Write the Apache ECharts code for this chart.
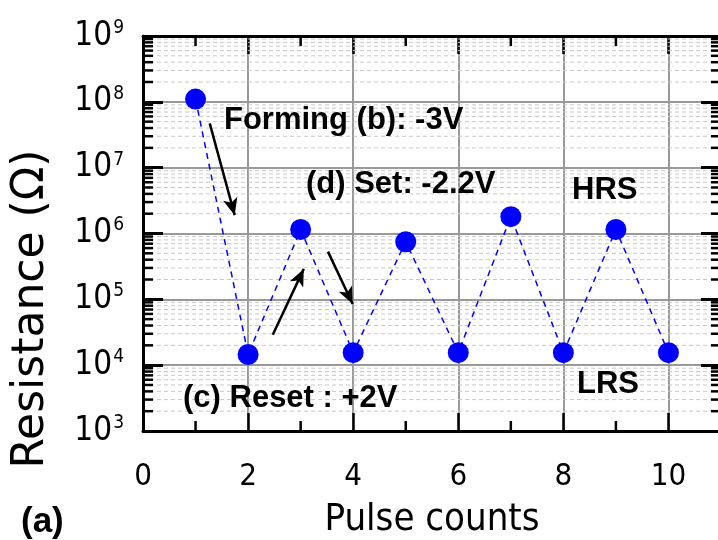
<!DOCTYPE html>
<html>
<head>
<meta charset="utf-8">
<script src="https://cdn.jsdelivr.net/npm/echarts@6/dist/echarts.min.js"></script>
<style>
  html, body { margin: 0; padding: 0; background: #fff; }
  #chart { width: 718px; height: 540px; }
</style>
</head>
<body>
<div id="chart"></div>
<script>
// values
const pulses = [1, 2, 3, 4, 5, 6, 7, 8, 9, 10];
const resistance = [1.1e8, 1.45e4, 1.15e6, 1.55e4, 7.5e5, 1.55e4, 1.8e6, 1.55e4, 1.15e6, 1.55e4];
const xMinorTicks = [1, 3, 5, 7, 9];
const yMinorTicks = [];
for (let d = 3; d < 9; d++) {
  for (let m = 2; m <= 9; m++) yMinorTicks.push(m * Math.pow(10, d));
}
// arrows: [from, to] in data space
const arrows = [
  [[1.27, 4.7e7], [1.745, 1.9e6]],
  [[2.47, 2.9e4], [3.06, 2.9e5]],
  [[3.52, 5.3e5], [3.99, 8.5e4]]
];

const narrow = "'Liberation Sans Narrow', 'DejaVu Sans Condensed', sans-serif";
const bold = "'Liberation Sans', Arial, sans-serif";

const chart = echarts.init(document.getElementById('chart'));

function yMinorItem (params, api) {
  const cs = params.coordSys;
  const y = api.coord([0, api.value(1)])[1];
  return {
    type: 'group',
    children: [
      { type: 'line', shape: { x1: cs.x, y1: y, x2: cs.x + cs.width, y2: y },
        style: { stroke: '#c8c8c8', lineWidth: 1, lineDash: [4, 3] } },
      { type: 'line', shape: { x1: cs.x, y1: y, x2: cs.x + 10, y2: y },
        style: { stroke: '#000', lineWidth: 2.5 } },
      { type: 'line', shape: { x1: cs.x + cs.width - 10, y1: y, x2: cs.x + cs.width, y2: y },
        style: { stroke: '#000', lineWidth: 2.5 } }
    ]
  };
}

function xMinorItem (params, api) {
  const cs = params.coordSys;
  const x = api.coord([api.value(0), 1e3])[0];
  return {
    type: 'group',
    children: [
      { type: 'line', shape: { x1: x, y1: cs.y + cs.height, x2: x, y2: cs.y + cs.height - 10 },
        style: { stroke: '#000', lineWidth: 2.5 } },
      { type: 'line', shape: { x1: x, y1: cs.y, x2: x, y2: cs.y + 10 },
        style: { stroke: '#000', lineWidth: 2.5 } }
    ]
  };
}

const axisLine = { show: true, onZero: false, lineStyle: { color: '#000', width: 3 } };

function note (text, x, y, size) {
  return {
    type: 'text', x: x, y: y, z: 10,
    style: { text: text, fontSize: size, fontWeight: 'bold', fontFamily: bold, fill: '#000',
      align: 'left', verticalAlign: 'middle' }
  };
}

const option = {
  animation: false,
  textStyle: { fontFamily: narrow },
  grid: { left: 143, top: 36, width: 578, height: 395, containLabel: false, outerBoundsMode: 'none' },
  xAxis: [{
    type: 'value', min: 0, max: 11, interval: 2, position: 'bottom',
    axisLine: axisLine,
    axisTick: { inside: true, length: 18, lineStyle: { color: '#000', width: 2.5 } },
    axisLabel: { margin: 30, fontSize: 31, color: '#000', fontFamily: narrow,
      formatter: v => (v > 10 ? '' : String(v)) },
    splitLine: { show: true, lineStyle: { color: '#999', width: 2 } },
    name: 'Pulse counts', nameLocation: 'middle', nameGap: 70,
    nameTextStyle: { fontSize: 38, color: '#000', fontFamily: narrow }
  }, {
    type: 'value', min: 0, max: 11, interval: 2, position: 'top',
    axisLine: axisLine,
    axisTick: { inside: true, length: 18, lineStyle: { color: '#000', width: 2.5 } },
    axisLabel: { show: false },
    splitLine: { show: false }
  }],
  yAxis: [{
    type: 'log', logBase: 10, min: 1e3, max: 1e9, position: 'left',
    axisLine: axisLine,
    axisTick: { inside: true, length: 20, lineStyle: { color: '#000', width: 3 } },
    axisLabel: {
      margin: 19, color: '#000',
      formatter: v => '{b|10}{s|' + Math.round(Math.log10(v)) + '}',
      rich: {
        b: { fontSize: 33, fontFamily: narrow, color: '#000' },
        s: { fontSize: 19, fontFamily: narrow, color: '#000', verticalAlign: 'top', padding: [0, 0, 16, 1] }
      }
    },
    splitLine: { show: true, lineStyle: { color: '#999', width: 2 } }
  }, {
    type: 'log', logBase: 10, min: 1e3, max: 1e9, position: 'right',
    axisLine: axisLine,
    axisTick: { inside: true, length: 20, lineStyle: { color: '#000', width: 3 } },
    axisLabel: { show: false },
    splitLine: { show: false }
  }],
  series: [{
    type: 'custom', name: 'yMinor', z: 1, silent: true,
    renderItem: yMinorItem,
    data: yMinorTicks.map(v => [0, v])
  }, {
    type: 'custom', name: 'xMinor', z: 1, silent: true,
    renderItem: xMinorItem,
    data: xMinorTicks.map(v => [v, 1e3])
  }, {
    type: 'line', name: 'Resistance', z: 5,
    data: pulses.map((p, i) => [p, resistance[i]]),
    symbol: 'circle', symbolSize: 21,
    itemStyle: { color: '#0000ff' },
    lineStyle: { color: '#0000ff', width: 1.5, type: [6, 5] },
    markLine: {
      silent: true, symbol: ['none', 'arrow'], symbolSize: [11, 17],
      label: { show: false },
      lineStyle: { color: '#000', width: 2.5, type: 'solid' },
      data: arrows.map(a => [{ coord: a[0] }, { coord: a[1] }])
    }
  }],
  graphic: [
    {
      type: 'text', x: 32, y: 309, rotation: Math.PI / 2,
      style: { text: 'Resistance (Ω)', fontSize: 44, fontFamily: "'DejaVu Sans', sans-serif", fill: '#000',
        align: 'center', verticalAlign: 'middle' }
    },
    note('Forming (b): -3V', 224, 120, 31),
    note('(d) Set: -2.2V', 306, 184, 31),
    note('HRS', 572, 190, 31),
    note('LRS', 577, 384, 31),
    note('(c) Reset : +2V', 183, 398, 31),
    note('(a)', 21, 522, 35)
  ]
};

chart.setOption(option);
</script>
</body>
</html>
